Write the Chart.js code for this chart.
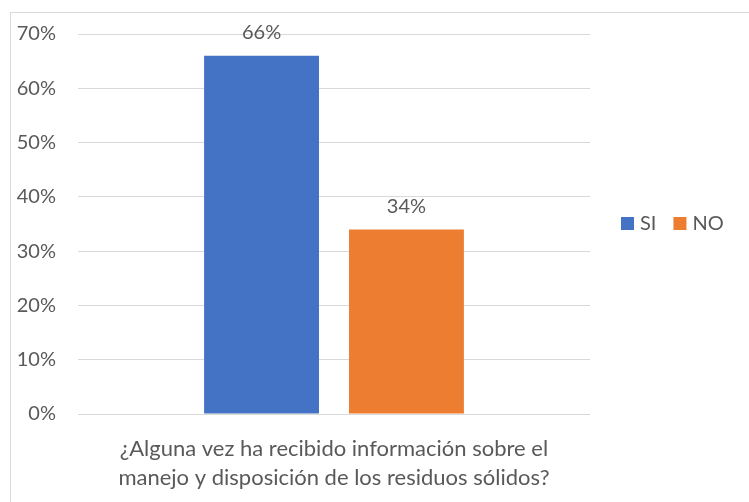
<!DOCTYPE html>
<html>
<head>
<meta charset="utf-8">
<script src="https://cdn.jsdelivr.net/npm/chart.js@4/dist/chart.umd.min.js"></script>
<style>
  html, body { margin: 0; padding: 0; background: #fff; overflow: hidden; }
  #wrap { position: relative; width: 749px; height: 502px; }
  #frame { position: absolute; left: 10px; top: 12px; width: 760px; height: 520px; border: 1px solid #d9d9d9; box-sizing: border-box; }
  canvas { position: absolute; left: 0; top: 0; }
</style>
</head>
<body>
<div id="wrap">
  <div id="frame"></div>
  <canvas id="chart" width="749" height="502"></canvas>
</div>
<script>
var categories = [["¿Alguna vez ha recibido información sobre el", "manejo y disposición de los residuos sólidos?"]];
var seriesNames = ["SI", "NO"];
var seriesValues = [[66], [34]];
var seriesColors = ["#4472C4", "#ED7D31"];
var yTicks = [0, 10, 20, 30, 40, 50, 60, 70];

var textColor = "#595959";
var fontFamily = "Lato, 'Liberation Sans', sans-serif";

// value labels above each bar
var valueLabels = {
  id: "valueLabels",
  afterDatasetsDraw: function (chart) {
    var ctx = chart.ctx;
    ctx.save();
    ctx.fillStyle = textColor;
    ctx.font = "20px " + fontFamily;
    ctx.textAlign = "center";
    ctx.textBaseline = "middle";
    chart.data.datasets.forEach(function (ds, i) {
      chart.getDatasetMeta(i).data.forEach(function (bar, j) {
        ctx.fillText(ds.data[j] + "%", bar.x, bar.y - 23);
      });
    });
    ctx.restore();
  }
};

// horizontal legend at the right side
var sideLegend = {
  id: "sideLegend",
  afterDraw: function (chart) {
    var ctx = chart.ctx;
    var x = 621, y = 224;
    ctx.save();
    ctx.font = "20px " + fontFamily;
    ctx.textBaseline = "middle";
    chart.data.datasets.forEach(function (ds) {
      ctx.fillStyle = ds.backgroundColor;
      ctx.fillRect(x, y - 7, 13, 13);
      ctx.fillStyle = textColor;
      ctx.fillText(ds.label, x + 19, y);
      x += 19 + ctx.measureText(ds.label).width + 17;
    });
    ctx.restore();
  }
};

var ctx = document.getElementById("chart").getContext("2d");
var chart = new Chart(ctx, {
  type: "bar",
  data: {
    labels: categories,
    datasets: seriesNames.map(function (name, i) {
      return {
        label: name,
        data: seriesValues[i],
        backgroundColor: seriesColors[i],
        categoryPercentage: 0.566,
        barPercentage: 0.793
      };
    })
  },
  options: {
    responsive: false,
    animation: false,
    layout: { padding: { top: 33, right: 159, left: 0, bottom: 0 } },
    plugins: {
      legend: { display: false },
      tooltip: { enabled: false }
    },
    scales: {
      x: {
        grid: { display: false },
        border: { display: false },
        ticks: {
          color: textColor,
          font: { family: fontFamily, size: 22, lineHeight: 1.32 },
          padding: 12,
          maxRotation: 0
        },
        afterFit: function (s) { s.height = 88; }
      },
      y: {
        min: 0,
        max: 70,
        afterBuildTicks: function (s) { s.ticks = yTicks.map(function (v) { return { value: v }; }); },
        grid: { color: "#d9d9d9", lineWidth: 1, drawTicks: false },
        border: { display: false },
        ticks: {
          color: textColor,
          font: { family: fontFamily, size: 20 },
          padding: 22,
          callback: function (v) { return v + "%"; }
        },
        afterFit: function (s) { s.width = 78; }
      }
    }
  },
  plugins: [valueLabels, sideLegend]
});
</script>
</body>
</html>
